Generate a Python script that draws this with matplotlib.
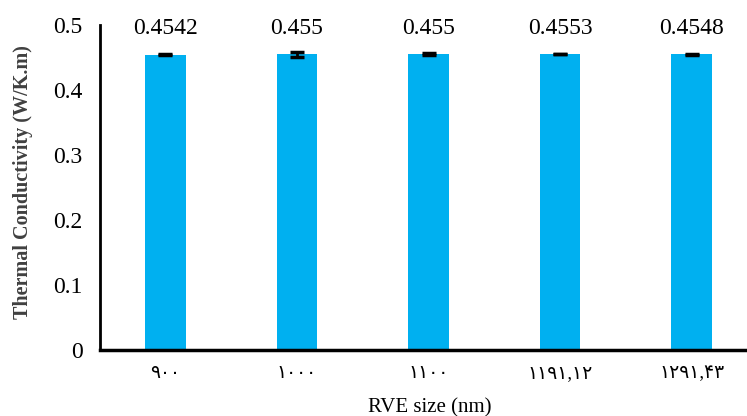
import numpy as np
import matplotlib.pyplot as plt

# --- data ---
sizes = ['۹۰۰', '۱۰۰۰', '۱۱۰۰', '۱۱۹۱,۱۲', '۱۲۹۱,۴۳']
conductivity = [0.4542, 0.455, 0.455, 0.4553, 0.4548]
errors = [0.0005, 0.0035, 0.0015, 0.0005, 0.0005]
value_labels = ['0.4542', '0.455', '0.455', '0.4553', '0.4548']
yticks = [0, 0.1, 0.2, 0.3, 0.4, 0.5]
ytick_labels = ['0', '0.1', '0.2', '0.3', '0.4', '0.5']

plt.rcParams['font.family'] = ['Liberation Serif', 'DejaVu Sans']

fig = plt.figure(figsize=(7.47, 4.16), dpi=100)
ax = fig.add_axes([99.5 / 747, 66 / 416, 658 / 747, 325 / 416])

x = np.arange(len(sizes))
ax.bar(x, conductivity, width=0.31, color='#00B0F0', zorder=2)
ax.errorbar(x, conductivity, yerr=errors, fmt='none', ecolor='black',
            elinewidth=2, capsize=5, capthick=2.5, zorder=3)

for xi, val, lab in zip(x, conductivity, value_labels):
    ax.annotate(lab, (xi, val), xytext=(0, 11), textcoords='offset points',
                ha='center', va='bottom', fontsize=17, annotation_clip=False)

ax.set_xlim(-0.5, len(sizes) - 0.5)
ax.set_ylim(0, 0.5)
ax.set_yticks(yticks)
ax.set_yticklabels(ytick_labels, fontsize=17)
ax.set_xticks(x)
ax.set_xticklabels(sizes, fontsize=13.5)
ax.tick_params(axis='both', length=0)
ax.tick_params(axis='x', pad=11)
ax.tick_params(axis='y', pad=12)

ax.spines['top'].set_visible(False)
ax.spines['right'].set_visible(False)
ax.spines['left'].set_linewidth(2)
ax.spines['bottom'].set_linewidth(2.5)

ax.set_ylabel('Thermal Conductivity (W/K.m)', fontsize=14.5, fontweight='bold',
              color='#404040')
ax.yaxis.set_label_coords(-0.101, 0.518)
ax.set_xlabel('RVE size (nm)', fontsize=15)
ax.xaxis.set_label_coords((430 - 99.5) / 658, -0.148)

fig.savefig('out.png', dpi=100)
